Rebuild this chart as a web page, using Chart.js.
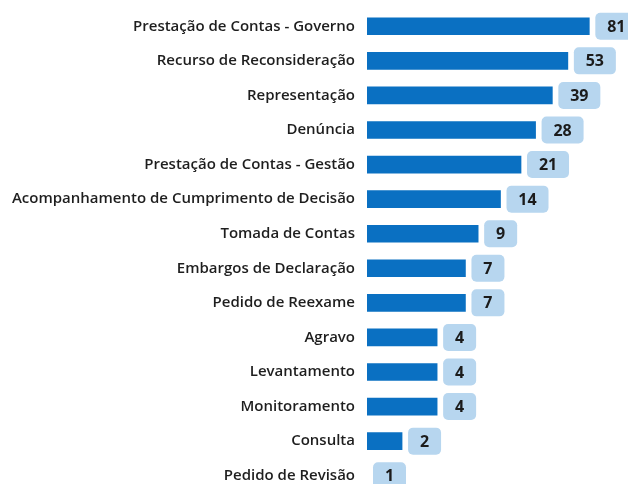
<!DOCTYPE html>
<html>
<head>
<meta charset="utf-8">
<script src="https://cdn.jsdelivr.net/npm/chart.js@4/dist/chart.umd.min.js"></script>
<style>
  html, body { margin: 0; padding: 0; overflow: hidden; background: #fff; }
  /* o gráfico passa um pouco da janela em cima e embaixo, como no original */
  #wrap { width: 628px; height: 526px; margin-top: -12px; position: relative; }
</style>
</head>
<body>
<div id="wrap"><canvas id="grafico"></canvas></div>
<script>
// categorias e valores
const categorias = [
  'Prestação de Contas - Governo',
  'Recurso de Reconsideração',
  'Representação',
  'Denúncia',
  'Prestação de Contas - Gestão',
  'Acompanhamento de Cumprimento de Decisão',
  'Tomada de Contas',
  'Embargos de Declaração',
  'Pedido de Reexame',
  'Agravo',
  'Levantamento',
  'Monitoramento',
  'Consulta',
  'Pedido de Revisão'
];
const quantidades = [81, 53, 39, 28, 21, 14, 9, 7, 7, 4, 4, 4, 2, 1];

// caixinhas com o valor no fim de cada barra
const rotulosValor = {
  id: 'rotulosValor',
  afterDatasetsDraw(chart) {
    const ctx = chart.ctx;
    const meta = chart.getDatasetMeta(0);
    ctx.save();
    ctx.font = 'bold 16px "Open Sans", sans-serif';
    ctx.textBaseline = 'middle';
    ctx.textAlign = 'center';
    meta.data.forEach((bar, i) => {
      const txt = String(quantidades[i]);
      const w = txt.length > 1 ? 42 : 33;
      const h = 27;
      const x = bar.x + 6;
      const y = bar.y - h / 2;
      ctx.fillStyle = '#b7d6ef';
      ctx.beginPath();
      ctx.roundRect(x, y, w, h, 5);
      ctx.fill();
      ctx.fillStyle = '#1b1b1b';
      ctx.fillText(txt, x + w / 2, bar.y + 1);
    });
    ctx.restore();
  }
};

new Chart(document.getElementById('grafico'), {
  type: 'bar',
  data: {
    labels: categorias,
    datasets: [{
      data: quantidades,
      // valor 1 fica no início do eixo log: sem barra visível
      backgroundColor: c => c.raw > 1 ? '#0a70c2' : 'rgba(0,0,0,0)',
      barThickness: 17
    }]
  },
  options: {
    indexAxis: 'y',
    responsive: true,
    maintainAspectRatio: false,
    animation: false,
    layout: { padding: 0 },
    plugins: {
      legend: { display: false },
      tooltip: { enabled: false }
    },
    scales: {
      x: {
        type: 'logarithmic',
        min: 1,
        max: 174,
        display: false
      },
      y: {
        afterFit: s => { s.width = 367; },
        grid: { display: false, drawTicks: false },
        border: { display: false },
        ticks: {
          padding: 12,
          color: '#1e1e1e',
          font: { family: '"Open Sans", sans-serif', size: 15, weight: '600' }
        }
      }
    }
  },
  plugins: [rotulosValor]
});
</script>
</body>
</html>
